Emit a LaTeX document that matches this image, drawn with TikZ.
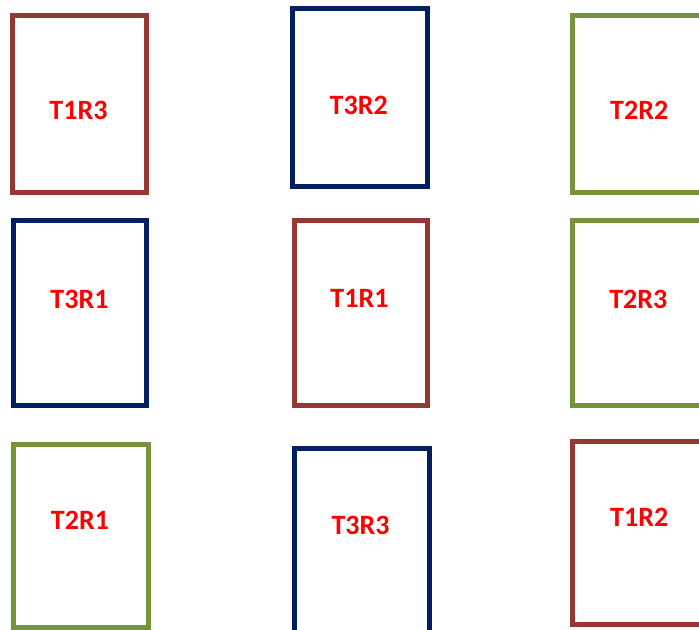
\documentclass[tikz,border=0pt]{standalone}
\usepackage{fontspec}
\setmainfont{Carlito}
\usepackage{xcolor}
\usepackage{tikz}
\definecolor{plotred}{HTML}{953735}
\definecolor{plotnavy}{HTML}{002060}
\definecolor{plotolive}{HTML}{77933C}
\definecolor{labelred}{HTML}{FF0000}

\tikzset{
  plotT1/.style={draw=plotred,line width=3.75pt},
  plotT2/.style={draw=plotolive,line width=3.75pt},
  plotT3/.style={draw=plotnavy,line width=3.75pt},
  plotlabel/.style={text=labelred,inner sep=0pt,font=\fontsize{21pt}{24pt}\selectfont\bfseries}
}

\begin{document}
\begin{tikzpicture}[x=0.75pt,y=-0.75pt]
  \useasboundingbox (0,0) rectangle (699,630);
  \begin{scope}
    \clip (0,0) rectangle (699,630);
    % first row
    \draw[plotT1] (12,16) rectangle (146,192.5);
    \node[plotlabel] (t1r3) at (78.5,110.8) {T1R3};
    \draw[plotT3] (292,9) rectangle (427,187);
    \node[plotlabel] (t3r2) at (358.7,105.8) {T3R2};
    \draw[plotT2] (572.5,16) rectangle (707,192.5);
    \node[plotlabel] (t2r2) at (639.2,110.8) {T2R2};
    % second row
    \draw[plotT3] (13.5,221) rectangle (146.5,406);
    \node[plotlabel] (t3r1) at (79.5,299.2) {T3R1};
    \draw[plotT1] (294.5,221) rectangle (427.5,406);
    \node[plotlabel] (t1r1) at (359.5,298.5) {T1R1};
    \draw[plotT2] (572.5,221) rectangle (707,406);
    \node[plotlabel] (t2r3) at (638.3,299.2) {T2R3};
    % third row
    \draw[plotT2] (13.5,444) rectangle (148.5,627.5);
    \node[plotlabel] (t2r1) at (80,520.8) {T2R1};
    \draw[plotT3] (294,448.5) rectangle (429,636);
    \node[plotlabel] (t3r3) at (360.5,525) {T3R3};
    \draw[plotT1] (572.5,441) rectangle (707,624);
    \node[plotlabel] (t1r2) at (639.2,517.5) {T1R2};
  \end{scope}
\end{tikzpicture}
\end{document}
